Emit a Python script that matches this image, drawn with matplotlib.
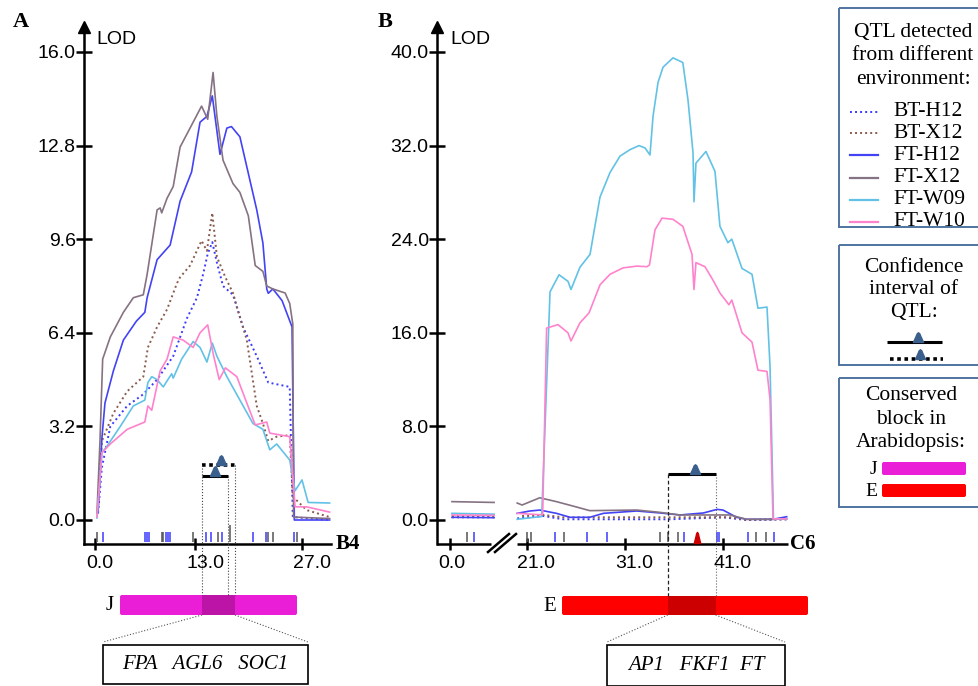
import numpy as np
import matplotlib
matplotlib.use("Agg")
import matplotlib.pyplot as plt
from matplotlib.patches import Rectangle, FancyBboxPatch
from matplotlib.transforms import blended_transform_factory, ScaledTranslation

nan = np.nan
W, H = 979, 686
SANS = "Liberation Sans"
SERIF = "Liberation Serif"

# ---------------- data ----------------
series_names = ["BT-H12", "BT-X12", "FT-H12", "FT-X12", "FT-W09", "FT-W10"]
series_colors = ["#3b3bff", "#8a5a4c", "#4343f5", "#857282", "#62c2e6", "#ff82cc"]
series_dotted = [True, True, False, False, False, False]

# panel A, chromosome B4: (cM, LOD)
a_bt_h12 = [(0.4, 0.24), (0.9, 1.8), (2.0, 3.2), (4.2, 3.9), (6.3, 4.3), (8.1, 4.8), (10.2, 5.6),
            (12.0, 6.9), (13.3, 7.6), (14.1, 8.4), (14.7, 9.1), (15.3, 9.5), (15.9, 8.8), (16.7, 8.0),
            (18.0, 7.7), (19.3, 6.6), (21.1, 5.6), (22.6, 4.7), (25.4, 4.55), (25.8, 0.1), (30.6, 0.0)]
a_bt_x12 = [(0.4, 0.5), (0.9, 2.7), (2.4, 3.65), (4.2, 4.4), (6.3, 4.9), (6.9, 5.9), (8.1, 6.6),
            (9.4, 7.2), (10.7, 8.1), (11.1, 8.3), (12.4, 8.7), (13.9, 9.55), (14.6, 9.2), (15.3, 10.5),
            (15.9, 9.0), (17.0, 8.3), (18.0, 7.76), (18.5, 7.3), (19.8, 6.15), (21.1, 3.9), (21.9, 3.3),
            (22.6, 2.7), (23.7, 2.85), (25.4, 2.9), (25.8, 0.8), (27.6, 0.34), (30.6, 0.1)]
a_ft_h12 = [(0.4, 0.24), (0.9, 2.8), (1.3, 4.0), (2.4, 5.1), (3.7, 6.15), (5.4, 6.8), (6.5, 7.1),
            (6.8, 7.6), (8.1, 8.9), (9.8, 9.4), (11.1, 10.9), (12.6, 11.9), (13.7, 13.6), (14.6, 13.8),
            (15.3, 14.5), (16.3, 12.5), (17.2, 13.4), (17.8, 13.45), (18.9, 13.1), (20.0, 11.85),
            (21.1, 10.6), (21.9, 9.47), (22.4, 7.9), (22.6, 7.75), (23.2, 7.9), (24.4, 7.5),
            (25.7, 6.6), (26.0, 0.0), (30.6, 0.0)]
a_ft_x12 = [(0.26, 0.24), (0.65, 2.7), (1.0, 5.5), (2.0, 6.26), (3.7, 7.1), (5.0, 7.6), (6.3, 7.7),
            (6.8, 8.4), (8.1, 10.6), (8.5, 10.67), (8.7, 10.5), (9.4, 11.0), (10.2, 11.4),
            (11.1, 12.75), (12.4, 13.4), (13.9, 14.15), (14.7, 13.7), (15.4, 15.3), (15.9, 13.8),
            (16.7, 12.3), (18.0, 11.5), (18.9, 11.2), (20.0, 10.4), (20.9, 8.7), (21.9, 8.5),
            (22.4, 8.0), (23.2, 7.9), (24.8, 7.76), (25.4, 7.4), (25.8, 6.7), (25.9, 0.1), (30.6, 0.05)]
a_ft_w09 = [(0.26, 0.07), (0.9, 2.3), (1.5, 2.5), (3.3, 3.2), (5.0, 3.9), (6.5, 4.1), (6.9, 4.7),
            (7.4, 4.9), (8.1, 4.8), (8.9, 4.55), (10.0, 5.0), (10.2, 4.85), (11.3, 5.5), (12.8, 6.1),
            (13.7, 5.9), (14.6, 5.4), (15.3, 6.05), (15.9, 5.6), (17.2, 4.9), (18.9, 4.1), (20.6, 3.3),
            (21.9, 3.1), (22.8, 2.4), (23.7, 2.6), (25.4, 2.05), (26.1, 1.0), (27.0, 1.37),
            (27.8, 0.6), (30.6, 0.58)]
a_ft_w10 = [(0.26, 0.1), (0.9, 2.3), (2.0, 2.6), (4.2, 3.1), (6.5, 3.35), (6.9, 3.9), (7.4, 3.75),
            (8.5, 5.1), (9.4, 5.5), (10.2, 6.26), (11.5, 6.15), (12.8, 5.9), (13.7, 6.4), (14.7, 6.67),
            (15.4, 5.7), (16.2, 4.8), (17.0, 5.2), (18.5, 4.9), (19.8, 4.0), (20.9, 3.25), (22.4, 3.35),
            (22.8, 2.97), (25.4, 2.85), (26.1, 0.45), (27.6, 0.45), (30.6, 0.27)]

# panel B, chromosome C6 (axis broken between 4.5 and 20 cM)
b_bt_h12 = [(0.2, 0.23), (4.5, 0.23), (nan, nan), (20.0, 0.14), (22.7, 0.34), (24.7, 0.06),
            (35.6, 0.06), (41.0, 0.23), (43.4, 0.0), (47.5, 0.06)]
b_bt_x12 = [(0.2, 0.34), (4.5, 0.3), (nan, nan), (20.5, 0.34), (22.7, 0.43), (24.7, 0.23),
            (35.6, 0.23), (41.7, 0.23), (43.4, 0.0), (47.5, 0.06)]
b_ft_h12 = [(0.2, 0.23), (4.5, 0.2), (nan, nan), (20.0, 0.57), (21.3, 0.77), (22.3, 0.85),
            (24.0, 0.57), (25.4, 0.23), (27.4, 0.23), (28.8, 0.57), (32.2, 0.77), (34.6, 0.6),
            (36.6, 0.43), (39.0, 0.6), (40.4, 0.91), (41.0, 0.85), (42.4, 0.23), (43.4, 0.06),
            (46.1, 0.06), (47.5, 0.28)]
b_ft_x12 = [(0.2, 1.57), (4.5, 1.5), (nan, nan), (20.0, 1.45), (20.5, 1.28), (22.3, 1.9),
            (24.0, 1.57), (26.1, 1.1), (27.4, 0.8), (32.2, 0.85), (34.6, 0.65), (36.6, 0.43),
            (40.4, 0.43), (41.7, 0.43), (43.4, 0.06), (46.1, 0.06), (47.5, 0.1)]
b_ft_w09 = [(0.2, 0.57), (4.5, 0.5), (nan, nan), (20.0, 0.06), (22.5, 0.3), (23.35, 19.5),
            (24.27, 20.96), (25.18, 20.4), (25.49, 19.7), (26.4, 21.6), (27.43, 22.7), (28.45, 27.6),
            (29.47, 29.7), (30.49, 31.1), (31.5, 31.65), (32.43, 32.0), (33.04, 31.8), (33.55, 31.2),
            (33.86, 34.5), (34.37, 37.4), (34.88, 38.7), (35.9, 39.5), (36.9, 39.1), (37.43, 35.9),
            (37.94, 31.4), (38.04, 27.2), (38.24, 30.5), (39.26, 31.5), (40.18, 29.8), (40.69, 25.1),
            (41.5, 23.7), (41.9, 24.0), (42.94, 21.5), (43.96, 21.0), (44.57, 18.1), (45.49, 18.2),
            (45.8, 13.1), (46.15, 0.1), (47.5, 0.1)]
b_ft_w10 = [(0.2, 0.43), (4.5, 0.4), (nan, nan), (20.0, 0.57), (22.3, 0.45), (22.6, 0.5),
            (23.0, 16.4), (24.16, 16.7), (25.18, 16.0), (25.49, 15.3), (26.4, 16.85), (27.33, 17.7),
            (28.45, 20.1), (29.47, 21.0), (30.8, 21.55), (32.2, 21.7), (33.24, 21.65), (33.5, 21.8),
            (34.06, 24.8), (34.78, 25.8), (35.9, 25.7), (36.9, 25.1), (37.84, 22.7), (38.04, 19.7),
            (38.24, 22.0), (39.16, 21.65), (39.98, 20.5), (40.69, 19.4), (41.6, 18.4), (41.9, 18.8),
            (42.94, 16.0), (43.96, 15.2), (44.57, 12.8), (45.49, 12.7), (45.8, 10.3), (46.1, 0.1),
            (47.5, 0.1)]

a_series = [a_bt_h12, a_bt_x12, a_ft_h12, a_ft_x12, a_ft_w09, a_ft_w10]
b_series = [b_bt_h12, b_bt_x12, b_ft_h12, b_ft_x12, b_ft_w09, b_ft_w10]

# molecular markers along the chromosomes (cM)
a_markers_blue = [1.0, 6.5, 6.8, 7.1, 9.3, 9.5, 9.8, 14.5, 15.1, 16.6, 20.6, 22.3, 25.9]
a_markers_grey = [0.2, 8.7, 8.9, 12.8, 16.0, 22.6, 23.2, 26.3]
a_markers_tall = [17.6]
b_markers_blue = [2.4, 23.9, 27.1, 29.2, 37.0, 40.4, 40.6, 43.6, 46.2]
b_markers_grey = [1.7, 21.0, 21.4, 24.8, 34.6, 35.4, 36.4, 44.4, 45.4]
b_marker_red = 38.3

# QTL confidence intervals: start, end, peak, LOD level drawn
a_ci_solid = (13.96, 17.3, 15.6, 1.5)
a_ci_dotted = (13.96, 18.26, 16.4, 1.88)
b_ci_solid = (35.36, 40.25, 38.1, 3.9)

a_xticks = [0.0, 13.0, 27.0]
b_xticks = [0.0, 21.0, 31.0, 41.0]
a_yticks = [0.0, 3.2, 6.4, 9.6, 12.8, 16.0]
b_yticks = [0.0, 8.0, 16.0, 24.0, 32.0, 40.0]

a_genes = "FPA   AGL6   SOC1"
b_genes = "AP1   FKF1  FT"

MAGENTA, MAGENTA_DARK = "#eb1ed7", "#bd14a8"
RED, RED_DARK = "#ff0000", "#cc0000"
TRI_COLOR = "#3b5f8c"
MARK_BLUE, MARK_GREY = "#3a3aff", "#555555"


def b_pos(cm):
    # broken axis: right part (from 21 cM) is pulled to the left
    cm = np.asarray(cm, float)
    return np.where(cm >= 10, cm - 13.143, cm)


def bullet(width):
    w = width / 2
    return [(-w, 0), (w, 0), (w * 0.5, 0.55), (w * 0.25, 0.85), (0, 0.95),
            (-w * 0.25, 0.85), (-w * 0.5, 0.55), (-w, 0)]


fig = plt.figure(figsize=(W / 100, H / 100), dpi=100)


def ax_rect(left, top, right, bottom):
    return fig.add_axes([left / W, 1 - bottom / H, (right - left) / W, (bottom - top) / H])


# axes placed so that the scales match the picture
axA = ax_rect(84, 27, 331, 544)
sxA, syA = (302 - 95) / 27.0, (520 - 52) / 16.0
axA.set_xlim((84 - 95) / sxA, (331 - 95) / sxA)
axA.set_ylim((520 - 544) / syA, (520 - 27) / syA)

axB = ax_rect(437, 27, 788, 544)
sxB, syB = 9.8, (520 - 52) / 40.0
axB.set_xlim((437 - 450) / sxB, (788 - 450) / sxB)
axB.set_ylim((520 - 544) / syB, (520 - 27) / syB)

for ax in (axA, axB):
    ax.patch.set_visible(False)
    for s in ("top", "right"):
        ax.spines[s].set_visible(False)
    ax.spines["left"].set_linewidth(1.8)
    ax.spines["bottom"].set_linewidth(1.8)
    ax.tick_params(axis="y", direction="inout", length=12, width=1.8, pad=0, labelsize=14)
    ax.tick_params(axis="x", direction="inout", length=8, width=1.8, pad=4, labelsize=14)
    for lbl in ax.get_xticklabels() + ax.get_yticklabels():
        lbl.set_family(SANS)
    # arrow on the LOD axis
    ax.plot([0], [1], marker="^", ms=8, color="k", transform=ax.transAxes, clip_on=False)
axB.spines["bottom"].set_visible(False)

# curves
for pts, col, dot in zip(a_series, series_colors, series_dotted):
    arr = np.array(pts, float)
    axA.plot(arr[:, 0], arr[:, 1], color=col, lw=1.4 if dot else 1.2,
             ls=(0, (1, 1.6)) if dot else "-", clip_on=False)
for pts, col, dot in zip(b_series, series_colors, series_dotted):
    arr = np.array(pts, float)
    axB.plot(b_pos(arr[:, 0]), arr[:, 1], color=col, lw=1.4 if dot else 1.2,
             ls=(0, (1, 1.6)) if dot else "-", clip_on=False)

# ticks
axA.set_yticks(a_yticks)
axA.set_yticklabels([f"{v:.1f}" for v in a_yticks], family=SANS)
axA.set_xticks(a_xticks)
axA.set_xticklabels([f"{v:.1f}" for v in a_xticks], family=SANS)
axB.set_yticks(b_yticks)
axB.set_yticklabels([f"{v:.1f}" for v in b_yticks], family=SANS)
axB.set_xticks(b_pos(b_xticks))
axB.set_xticklabels([f"{v:.1f}" for v in b_xticks], family=SANS)


def shift_xlabels(ax, shifts):
    for lbl, dx in zip(ax.get_xticklabels(), shifts):
        lbl.set_transform(lbl.get_transform() + ScaledTranslation(dx / 100, 0, fig.dpi_scale_trans))


shift_xlabels(axA, [5, 11, 10])
shift_xlabels(axB, [2, 9, 9, 10])

# broken x axis in B
trB = blended_transform_factory(axB.transData, axB.transAxes)
axB.plot([axB.get_xlim()[0], b_pos(4.2)], [0, 0], color="k", lw=1.8, transform=trB,
         clip_on=False, solid_capstyle="butt")
axB.plot([b_pos(20.0), axB.get_xlim()[1]], [0, 0], color="k", lw=1.8, transform=trB,
         clip_on=False, solid_capstyle="butt")

# marker ticks above the x axis
trA = blended_transform_factory(axA.transData, axA.transAxes)
axA.vlines(a_markers_blue, 0.004, 0.023, colors=MARK_BLUE, lw=1.1, transform=trA, clip_on=False)
axA.vlines(a_markers_grey, 0.004, 0.023, colors=MARK_GREY, lw=1.1, transform=trA, clip_on=False)
axA.vlines(a_markers_tall, 0.004, 0.037, colors=MARK_GREY, lw=1.1, transform=trA, clip_on=False)
axB.vlines(b_pos(b_markers_blue), 0.004, 0.023, colors=MARK_BLUE, lw=1.1, transform=trB, clip_on=False)
axB.vlines(b_pos(b_markers_grey), 0.004, 0.023, colors=MARK_GREY, lw=1.1, transform=trB, clip_on=False)
axB.plot([b_pos(b_marker_red)], [0.002], marker=bullet(0.55), ms=16, color=RED_DARK,
         transform=trB, clip_on=False, zorder=5)

# confidence intervals
s0, s1, sp, sy = a_ci_solid
axA.plot([s0, s1], [sy, sy], color="k", lw=2.2, solid_capstyle="butt")
axA.plot([sp], [sy], marker=bullet(1.0), ms=14, color=TRI_COLOR, zorder=5)
d0, d1, dp, dy = a_ci_dotted
axA.plot([d0, d1], [dy, dy], color="k", lw=2.6, ls=(0, (1, 1)))
axA.plot([dp], [dy], marker=bullet(1.0), ms=14, color=TRI_COLOR, zorder=5)
c0, c1, cp, cy = b_ci_solid
axB.plot(b_pos([c0, c1]), [cy, cy], color="k", lw=2.2, solid_capstyle="butt")
axB.plot(b_pos([cp]), [cy], marker=bullet(1.0), ms=14, color=TRI_COLOR, zorder=5)

# ---------------- overlay in pixel coordinates ----------------
ov = fig.add_axes([0, 0, 1, 1])
ov.set_xlim(0, W)
ov.set_ylim(H, 0)
ov.axis("off")


def to_px(ax, x, y):
    dx, dy = ax.transData.transform((float(x), float(y)))
    return dx, H - dy


# dotted guides from intervals to the conserved blocks
for x, y, ls in [(d0, dy, ":"), (s1, sy, ":"), (d1, dy, ":")]:
    px, py = to_px(axA, x, y)
    ov.plot([px, px], [py, 595], color="#444444", lw=0.8, ls=ls)
px, py = to_px(axB, b_pos(c0), cy)
ov.plot([px, px], [py, 596], color="#222222", lw=0.9, ls=(0, (3, 2)))
px, py = to_px(axB, b_pos(c1), cy)
ov.plot([px, px], [py, 596], color="#666666", lw=0.8, ls=":")


def block(x0, x1, top, bottom, dark0, dark1, col, dark, letter, box, genes):
    ov.add_patch(FancyBboxPatch((x0, top), x1 - x0, bottom - top,
                                boxstyle="round,pad=0,rounding_size=2", fc=col, ec="none"))
    ov.add_patch(Rectangle((dark0, top), dark1 - dark0, bottom - top, fc=dark, ec="none"))
    ov.text(x0 - 6, (top + bottom) / 2 + 1, letter, ha="right", va="center", family=SERIF, size=15)
    bx0, bx1, bt, bb = box
    ov.plot([dark0, bx0], [bottom, bt - 3], color="#555555", lw=0.8, ls=":")
    ov.plot([dark1, bx1], [bottom, bt - 3], color="#555555", lw=0.8, ls=":")
    ov.add_patch(Rectangle((bx0, bt), bx1 - bx0, bb - bt, fill=False, ec="k", lw=1.2, clip_on=False))
    ov.text((bx0 + bx1) / 2, (bt + bb) / 2, genes, ha="center", va="center",
            family=SERIF, style="italic", size=15)


ja = to_px(axA, d0, 0)[0]
jb = to_px(axA, d1, 0)[0]
block(120, 297, 595, 615, ja, jb, MAGENTA, MAGENTA_DARK, "J", (103, 308, 645, 684), a_genes)
ea = to_px(axB, b_pos(c0), 0)[0]
eb = to_px(axB, b_pos(c1), 0)[0]
block(562, 808, 596, 615, ea, eb, RED, RED_DARK, "E", (607, 785, 645, 686), b_genes)

# break marks on the C6 axis
ov.plot([488, 509], [552, 534], color="k", lw=1.8)
ov.plot([495, 516], [552, 534], color="k", lw=1.8)

# labels
ov.text(21, 22, "A", ha="center", va="center", family=SERIF, weight="bold", size=16)
ov.text(385, 22, "B", ha="center", va="center", family=SERIF, weight="bold", size=16)
ov.text(96, 39, "LOD", va="center", family=SANS, size=14)
ov.text(450, 39, "LOD", va="center", family=SANS, size=14)
ov.text(348, 544, "B4", ha="center", va="center", family=SERIF, weight="bold", size=15)
ov.text(803, 544, "C6", ha="center", va="center", family=SERIF, weight="bold", size=15)

# ---------------- legend boxes ----------------
LEG_EDGE = "#4f73a0"
for top, bottom in [(8, 227), (245, 365), (378, 507)]:
    ov.add_patch(Rectangle((839, top), 160, bottom - top, fill=False, ec=LEG_EDGE, lw=1.4,
                           clip_on=False))

LSIZE = 15.5
for i, txt in enumerate(["QTL detected", "from different", "environment:"]):
    ov.text(913, 32 + 23.5 * i, txt, ha="center", va="center", family=SERIF, size=LSIZE)
leg_rows = [112, 133, 155, 178, 200, 222]
for name, col, dot, py in zip(series_names, series_colors, series_dotted, leg_rows):
    ov.plot([850, 878], [py, py], color=col, lw=1.4 if dot else 1.6,
            ls=(0, (1, 1.6)) if dot else "-")
    ov.text(893, py, name, va="center", family=SERIF, size=LSIZE)

for i, txt in enumerate(["Confidence", "interval of", "QTL:"]):
    ov.text(914, 267 + 22.5 * i, txt, ha="center", va="center", family=SERIF, size=LSIZE)
ov.plot([887, 942], [342, 342], color="k", lw=2.2, solid_capstyle="butt")
ov.plot([918], [342], marker=bullet(1.0), ms=14, color=TRI_COLOR)
ov.plot([890, 943], [359, 359], color="k", lw=2.6, ls=(0, (1, 1)))
ov.plot([920], [359], marker=bullet(1.0), ms=14, color=TRI_COLOR)

for i, txt in enumerate(["Conserved", "block in", "Arabidopsis:"]):
    ov.text(911, 396 + 23 * i, txt, ha="center", va="center", family=SERIF, size=LSIZE)
for letter, col, top in [("J", MAGENTA, 462), ("E", RED, 484)]:
    ov.add_patch(FancyBboxPatch((882, top), 84, 13, boxstyle="round,pad=0,rounding_size=2",
                                fc=col, ec="none"))
    ov.text(877, top + 7, letter, ha="right", va="center", family=SERIF, size=14)

fig.savefig("out.png", dpi=100)
plt.close(fig)
